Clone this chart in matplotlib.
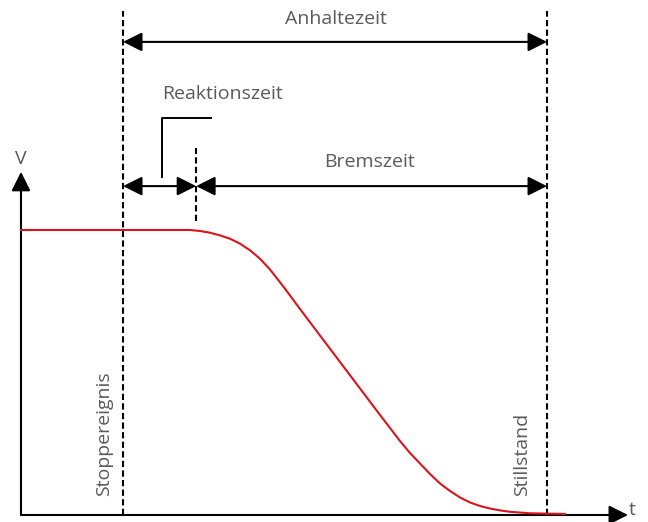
import matplotlib
matplotlib.use("Agg")
import matplotlib.pyplot as plt

# ---- data (time in arbitrary units, velocity in % of initial speed) ----
t_curve = [0.0, 2.833, 3.213, 3.403, 3.593, 3.783, 3.973, 4.163, 4.354, 4.544,
           4.734, 5.019, 5.304, 5.684, 6.065, 6.445, 6.825, 7.205, 7.395,
           7.776, 7.966, 8.156, 8.346, 8.536, 8.726, 8.916, 9.106, 9.297,
           9.677, 10.342]
v_curve = [100.0, 100.0, 100.0, 99.65, 99.05, 98.1, 96.95, 95.2, 92.88, 89.9,
           86.14, 79.40, 72.28, 62.98, 53.68, 44.39, 35.09, 25.96, 21.75,
           14.39, 11.05, 8.42, 6.14, 4.39, 3.16, 2.28, 1.61, 1.12,
           0.60, 0.35]

t_stop = 1.94        # Stoppereignis
t_react = 3.33       # Ende Reaktionszeit
t_stand = 10.0       # Stillstand

labels = {
    "stop": "Stoppereignis",
    "stand": "Stillstand",
    "total": "Anhaltezeit",
    "react": "Reaktionszeit",
    "brake": "Bremszeit",
    "v": "V",
    "t": "t",
}

# ---- figure ----
plt.rcParams['font.family'] = ['Open Sans', 'DejaVu Sans']
fig = plt.figure(figsize=(6.48, 5.22), dpi=100)
ax = fig.add_axes([0, 0, 1, 1])
ax.set_xlim(-0.399, 11.92)
ax.set_ylim(-2.46, 180.7)
ax.axis('off')

black = '#000000'
gray = '#5a5a5a'
red = '#d9141c'
lw = 1.5
astyle_single = '-|>,head_length=0.4,head_width=0.2'
astyle_double = '<|-|>,head_length=0.4,head_width=0.2'

# axes with arrows
ax.annotate('', xy=(0, 120.4), xytext=(0, 0),
            arrowprops=dict(arrowstyle=astyle_single, mutation_scale=29,
                            lw=lw, color=black, shrinkA=0, shrinkB=0))
ax.annotate('', xy=(11.54, 0), xytext=(0, 0),
            arrowprops=dict(arrowstyle=astyle_single, mutation_scale=29,
                            lw=lw, color=black, shrinkA=0, shrinkB=0))

# dashed event lines
dash = (0, (3, 1.6))
ax.plot([t_stop, t_stop], [0, 177], color=black, lw=1.5, linestyle=dash)
ax.plot([t_stand, t_stand], [0, 177], color=black, lw=1.5, linestyle=dash)
ax.plot([t_react, t_react], [103, 128.8], color=black, lw=1.5, linestyle=dash)

# curve
ax.plot(t_curve, v_curve, color=red, lw=1.5, solid_joinstyle='round', zorder=5)

# double arrows
def dbl(x0, x1, y):
    ax.annotate('', xy=(x1, y), xytext=(x0, y),
                arrowprops=dict(arrowstyle=astyle_double, mutation_scale=29,
                                lw=lw, color=black, shrinkA=0, shrinkB=0))

dbl(t_stop, t_stand, 166)
dbl(t_stop, t_react, 115.4)
dbl(t_react, t_stand, 115.4)

# bracket for Reaktionszeit
ax.plot([2.68, 2.68, 3.61], [118.6, 139.3, 139.3], color=black, lw=1.4)

fs = 14
ax.text(5.99, 173.9, labels["total"], ha='center', va='center', color=gray, fontsize=fs)
ax.text(3.83, 147.7, labels["react"], ha='center', va='center', color=gray, fontsize=fs)
ax.text(6.63, 123.9, labels["brake"], ha='center', va='center', color=gray, fontsize=fs)
ax.text(0, 125.0, labels["v"], ha='center', va='center', color=gray, fontsize=fs)
ax.text(11.62, 1.6, labels["t"], ha='center', va='center', color=gray, fontsize=fs)
ax.text(1.57, 28.4, labels["stop"], ha='center', va='center', color=gray,
        fontsize=fs, rotation=90)
ax.text(9.52, 21.4, labels["stand"], ha='center', va='center', color=gray,
        fontsize=fs, rotation=90)

fig.savefig('out.png', dpi=100)
